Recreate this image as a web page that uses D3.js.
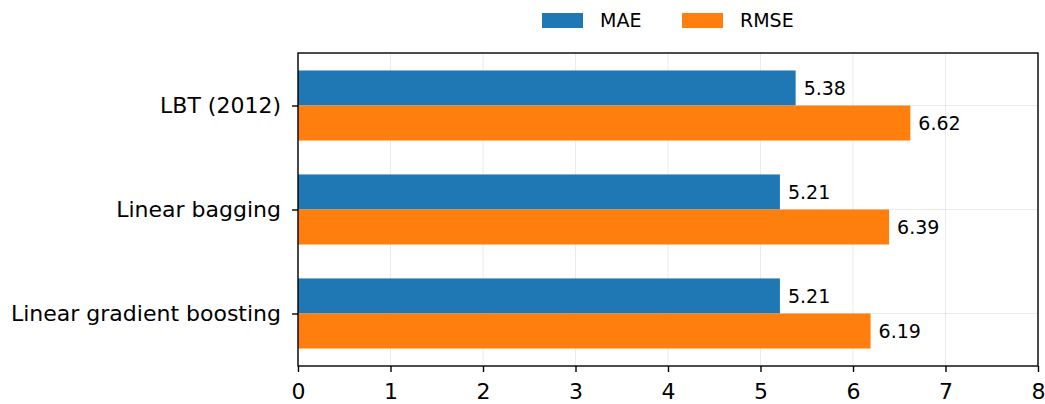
<!DOCTYPE html>
<meta charset="utf-8">
<script src="https://d3js.org/d3.v7.min.js"></script>
<style>
  body { margin: 0; background: #fff; }
  text { font-family: "DejaVu Sans", sans-serif; fill: #000; }
</style>
<body>
<div id="chart"></div>
<script>
// data
var models = ["LBT (2012)", "Linear bagging", "Linear gradient boosting"];
var maeValues = [5.38, 5.21, 5.21];
var rmseValues = [6.62, 6.39, 6.19];
var seriesNames = ["MAE", "RMSE"];
var seriesColors = ["#1f77b4", "#ff7f0e"];
var xTicks = [0, 1, 2, 3, 4, 5, 6, 7, 8];

var W = 1045, H = 404;
var margin = {top: 53, right: 7, bottom: 38, left: 298};
var width = W - margin.left - margin.right,
    height = H - margin.top - margin.bottom;
var barH = 0.337;

var x = d3.scaleLinear().domain([0, 8]).range([0, width]);
// first category at top, half-band padding at both ends
var y = d3.scaleLinear().domain([-0.505, models.length - 1 + 0.505]).range([0, height]);

var svg = d3.select("#chart").append("svg")
    .attr("width", W)
    .attr("height", H)
  .append("g")
    .attr("transform", "translate(" + margin.left + "," + margin.top + ")");

// grid
svg.append("g").selectAll("line").data(xTicks).enter().append("line")
    .attr("x1", d => x(d)).attr("x2", d => x(d))
    .attr("y1", 0).attr("y2", height)
    .attr("stroke", "#b0b0b0").attr("stroke-opacity", 0.25).attr("stroke-width", 1);
svg.append("g").selectAll("line").data(models).enter().append("line")
    .attr("x1", 0).attr("x2", width)
    .attr("y1", (d, i) => y(i)).attr("y2", (d, i) => y(i))
    .attr("stroke", "#b0b0b0").attr("stroke-opacity", 0.25).attr("stroke-width", 1);

// bars
var series = [maeValues, rmseValues];
series.forEach(function(vals, s) {
  var g = svg.append("g");
  g.selectAll("rect").data(vals).enter().append("rect")
      .attr("x", x(0))
      .attr("y", (d, i) => y(i - barH + s * barH))
      .attr("width", d => x(d) - x(0))
      .attr("height", y(barH) - y(0))
      .attr("fill", seriesColors[s]);
  g.selectAll("text").data(vals).enter().append("text")
      .attr("x", d => x(d) + 8)
      .attr("y", (d, i) => y(i - barH / 2 + s * barH))
      .attr("dy", "0.36em")
      .style("font-size", "19px")
      .text(d => d.toFixed(2));
});

// axes
var xAxis = svg.append("g")
    .attr("transform", "translate(0," + height + ")")
    .call(d3.axisBottom(x).tickValues(xTicks).tickSize(6).tickPadding(11));
xAxis.selectAll("text").style("font-size", "22px");

var yAxis = svg.append("g")
    .call(d3.axisLeft(y).tickValues([0, 1, 2]).tickFormat(i => models[i]).tickSize(6).tickPadding(11));
yAxis.selectAll("text").style("font-size", "22px");

[xAxis, yAxis].forEach(function(a) {
  a.select(".domain").remove();
  a.selectAll("line").attr("stroke", "#000").attr("stroke-width", 1.4);
});

// frame
svg.append("rect")
    .attr("width", width).attr("height", height)
    .attr("fill", "none").attr("stroke", "#000").attr("stroke-width", 1.4);

// legend
var legend = d3.select("svg").append("g");
var legX = [542, 682];
seriesNames.forEach(function(n, i) {
  legend.append("rect")
      .attr("x", legX[i]).attr("y", 13)
      .attr("width", 41).attr("height", 15)
      .attr("fill", seriesColors[i]);
  legend.append("text")
      .attr("x", legX[i] + 58).attr("y", 20.5)
      .attr("dy", "0.36em")
      .style("font-size", "19px")
      .text(n);
});
</script>
</body>
